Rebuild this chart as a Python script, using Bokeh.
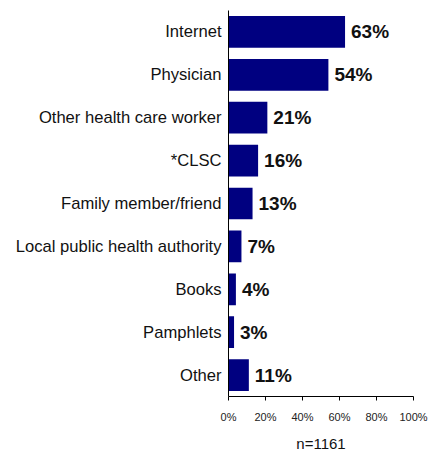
from bokeh.plotting import figure
from bokeh.models import ColumnDataSource, FactorRange, Range1d, FixedTicker, CustomJSTickFormatter
from bokeh.core.properties import value
from bokeh.embed import file_html
from bokeh.resources import INLINE

categories = ["Internet", "Physician", "Other health care worker", "*CLSC",
              "Family member/friend", "Local public health authority",
              "Books", "Pamphlets", "Other"]
values = [63, 54, 21, 16, 13, 7, 4, 3, 11]
labels = [f"{v}%" for v in values]
x_ticks = [0, 20, 40, 60, 80, 100]
sample_note = "n=1161"

src = ColumnDataSource(dict(cat=categories, val=values, lab=labels))

p = figure(width=430, height=454, output_backend="svg", toolbar_location=None,
           y_range=FactorRange(*reversed(categories), range_padding=0),
           x_range=Range1d(0, 100),
           min_border_left=228, min_border_right=17, min_border_top=10, min_border_bottom=50)

p.hbar(y="cat", right="val", left=0, height=0.74, source=src,
       fill_color="#000080", line_color=None)
p.text(x="val", y="cat", text="lab", source=src, x_offset=6,
       text_font=value("Liberation Sans"), text_font_style="bold",
       text_font_size="19px", text_baseline="middle", text_color="#111111")

p.outline_line_color = None
p.grid.visible = False

p.yaxis.major_tick_line_color = None
p.yaxis.minor_tick_line_color = None
p.yaxis.major_tick_out = 0
p.yaxis.major_tick_in = 0
p.yaxis.axis_line_color = "black"
p.yaxis.major_label_text_font = "Liberation Sans"
p.yaxis.major_label_text_font_size = "16.6px"
p.yaxis.major_label_text_color = "#111111"
p.yaxis.major_label_standoff = 7

p.xaxis.ticker = FixedTicker(ticks=x_ticks)
p.xaxis.formatter = CustomJSTickFormatter(code="return tick + '%';")
p.xaxis.minor_tick_line_color = None
p.xaxis.major_tick_in = 0
p.xaxis.major_tick_out = 4
p.xaxis.axis_line_color = "black"
p.xaxis.major_label_text_font = "Liberation Sans"
p.xaxis.major_label_text_font_size = "11px"
p.xaxis.major_label_text_color = "#222222"
p.xaxis.major_label_standoff = 10
p.xaxis.axis_label = sample_note
p.xaxis.axis_label_text_font = "Liberation Sans"
p.xaxis.axis_label_text_font_style = "normal"
p.xaxis.axis_label_text_font_size = "15px"
p.xaxis.axis_label_text_color = "#111111"
p.xaxis.axis_label_standoff = 9

open("out.html", "w").write(file_html(p, INLINE))
